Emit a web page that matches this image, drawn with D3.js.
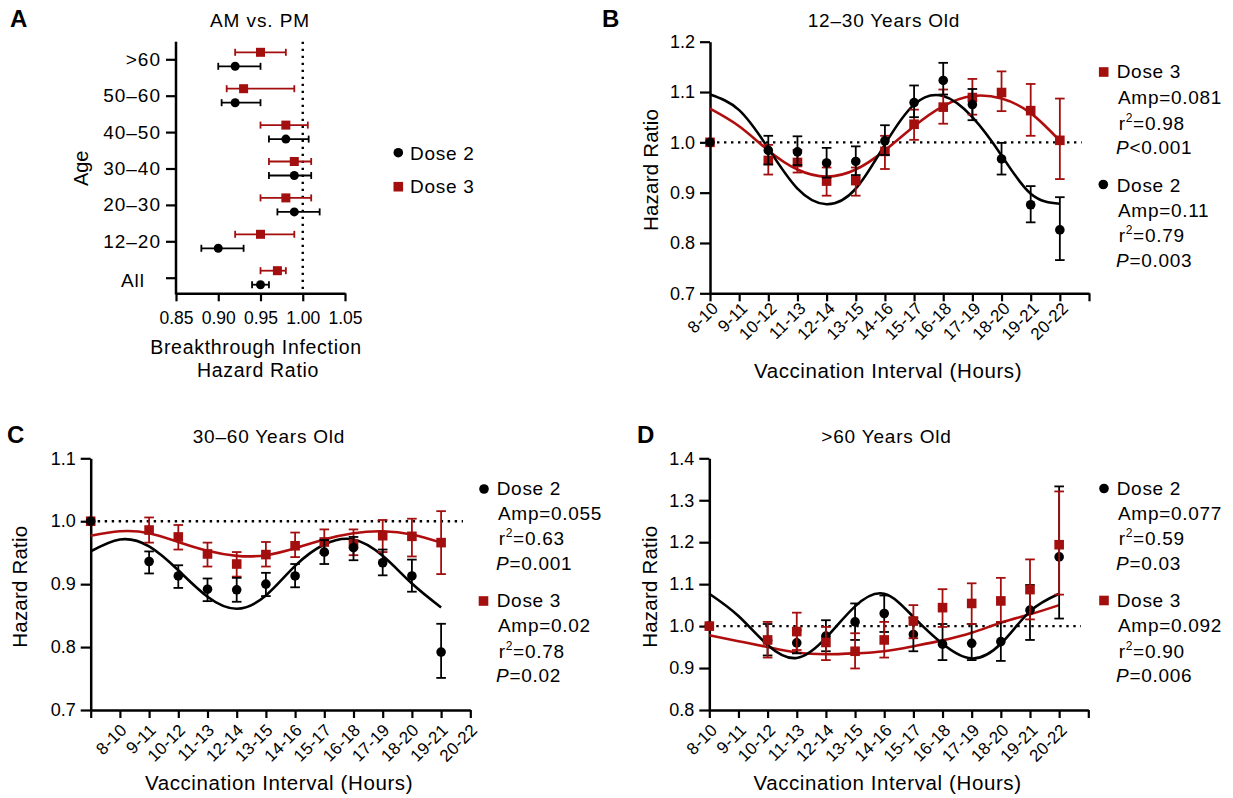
<!DOCTYPE html>
<html><head><meta charset="utf-8">
<script src="https://cdn.jsdelivr.net/npm/d3@7"></script>
<style>
body{margin:0;background:#fff;}
svg text{font-family:"Liberation Sans",Arial,Helvetica,sans-serif;fill:#000;}
</style></head><body>
<svg id="fig" width="1233" height="798" xmlns="http://www.w3.org/2000/svg"></svg>
<script>
// ---------- Panel A data ----------
const ageGroups = [">60", "50–60", "40–50", "30–40", "20–30", "12–20", "All"];
const aDose2HR = [0.92, 0.92, 0.98, 0.99, 0.99, 0.90, 0.95];
const aDose2Lo = [0.90, 0.904, 0.96, 0.96, 0.97, 0.88, 0.94];
const aDose2Hi = [0.95, 0.95, 1.007, 1.01, 1.02, 0.93, 0.96];
const aDose3HR = [0.95, 0.93, 0.98, 0.99, 0.98, 0.95, 0.97];
const aDose3Lo = [0.92, 0.91, 0.95, 0.96, 0.95, 0.92, 0.95];
const aDose3Hi = [0.98, 0.99, 1.006, 1.01, 1.01, 0.99, 0.98];
const aTicks = [0.85, 0.90, 0.95, 1.00, 1.05];

// ---------- Shared interval categories ----------
const intervals = ["8-10","9-11","10-12","11-13","12-14","13-15","14-16","15-17","16-18","17-19","18-20","19-21","20-22"];
const pointIdx = [0, 2, 3, 4, 5, 6, 7, 8, 9, 10, 11, 12];
const fitIdx = [0, 1, 2, 3, 4, 5, 6, 7, 8, 9, 10, 11, 12];

// ---------- Panel B (12–30) ----------
const bDose2HR = [1.0, 0.984, 0.981, 0.959, 0.962, 1.003, 1.079, 1.123, 1.075, 0.967, 0.876, 0.826];
const bDose2Lo = [null, 0.956, 0.955, 0.930, 0.935, 0.975, 1.050, 1.095, 1.044, 0.936, 0.841, 0.766];
const bDose2Hi = [null, 1.013, 1.012, 0.989, 0.992, 1.034, 1.113, 1.158, 1.106, 0.999, 0.913, 0.891];
const bDose3HR = [1.0, 0.964, 0.960, 0.923, 0.924, 0.982, 1.036, 1.070, 1.089, 1.099, 1.063, 1.004];
const bDose3Lo = [null, 0.936, 0.940, 0.894, 0.894, 0.947, 1.005, 1.037, 1.055, 1.062, 1.013, 0.927];
const bDose3Hi = [null, 0.995, 0.985, 0.950, 0.950, 1.013, 1.065, 1.105, 1.126, 1.141, 1.116, 1.087];
const bDose2Fit = [1.095, 1.064, 0.988, 0.908, 0.877, 0.908, 0.996, 1.075, 1.092, 1.050, 0.974, 0.898, 0.878];
const bDose3Fit = [1.067, 1.032, 0.984, 0.946, 0.932, 0.946, 0.984, 1.032, 1.072, 1.092, 1.087, 1.058, 1.003];
const bTicks = [0.7, 0.8, 0.9, 1.0, 1.1, 1.2];

// ---------- Panel C (30–60) ----------
const cDose2HR = [1.0, 0.936, 0.913, 0.892, 0.891, 0.900, 0.913, 0.951, 0.958, 0.934, 0.913, 0.792];
const cDose2Lo = [null, 0.917, 0.894, 0.873, 0.872, 0.881, 0.895, 0.932, 0.938, 0.914, 0.888, 0.751];
const cDose2Hi = [null, 0.952, 0.930, 0.909, 0.910, 0.918, 0.932, 0.970, 0.975, 0.955, 0.939, 0.837];
const cDose3HR = [1.0, 0.986, 0.975, 0.948, 0.932, 0.947, 0.961, 0.967, 0.964, 0.977, 0.976, 0.966];
const cDose3Lo = [null, 0.966, 0.955, 0.928, 0.912, 0.928, 0.943, 0.949, 0.946, 0.951, 0.944, 0.916];
const cDose3Hi = [null, 1.006, 0.994, 0.966, 0.951, 0.967, 0.982, 0.987, 0.987, 1.002, 1.004, 1.016];
const cDose2Fit = [0.952, 0.971, 0.960, 0.922, 0.880, 0.861, 0.882, 0.929, 0.963, 0.971, 0.945, 0.901, 0.863];
const cDose3Fit = [0.977, 0.984, 0.981, 0.967, 0.953, 0.945, 0.946, 0.957, 0.971, 0.981, 0.984, 0.979, 0.966];
const cTicks = [0.7, 0.8, 0.9, 1.0, 1.1];

// ---------- Panel D (>60) ----------
const dDose2HR = [1.0, 0.966, 0.960, 0.976, 1.010, 1.030, 0.980, 0.957, 0.959, 0.963, 1.038, 1.165];
const dDose2Lo = [null, 0.930, 0.935, 0.940, 0.967, 0.986, 0.940, 0.919, 0.919, 0.917, 0.967, 1.018];
const dDose2Hi = [null, 1.005, 0.990, 1.014, 1.054, 1.073, 1.020, 1.005, 1.005, 1.010, 1.098, 1.333];
const dDose3HR = [1.0, 0.967, 0.987, 0.961, 0.940, 0.967, 1.012, 1.044, 1.054, 1.060, 1.087, 1.194];
const dDose3Lo = [null, 0.925, 0.943, 0.919, 0.899, 0.925, 0.971, 0.998, 1.005, 1.010, 1.016, 1.075];
const dDose3Hi = [null, 1.010, 1.032, 0.998, 0.983, 1.010, 1.050, 1.088, 1.102, 1.115, 1.159, 1.321];
const dDose2Fit = [1.077, 1.024, 0.955, 0.924, 0.972, 1.047, 1.077, 1.022, 0.958, 0.923, 0.958, 1.035, 1.077];
const dDose3Fit = [0.978, 0.964, 0.950, 0.937, 0.933, 0.935, 0.940, 0.952, 0.966, 0.984, 1.008, 1.028, 1.050];
const dTicks = [0.8, 0.9, 1.0, 1.1, 1.2, 1.3, 1.4];

// ---------- Styling ----------
const RED = "#a30e0e", RED_LINE = "#b00e0e", RED_TEXT = "#9a1010", BLACK = "#000";
const svg = d3.select("#fig");

function styleAxis(g, fs, ls) {
  g.selectAll(".domain").attr("stroke", "#000").attr("stroke-width", 2.5);
  g.selectAll(".tick line").attr("stroke", "#000").attr("stroke-width", 2.2);
  const t = g.selectAll(".tick text").attr("fill", "#000").style("font-size", (fs || 17.5) + "px")
    .style("font-family", '"Liberation Sans", Arial, sans-serif');
  if (ls) t.style("letter-spacing", ls + "px");
}

function label(g, x, y, s, size, opts = {}) {
  const t = g.append("text").attr("x", x).attr("y", y).text(s)
    .style("font-size", size + "px")
    .attr("text-anchor", opts.anchor || "start")
    .attr("fill", opts.fill || "#000");
  if (opts.ls) t.style("letter-spacing", opts.ls + "px");
  if (opts.weight) t.style("font-weight", opts.weight);
  if (opts.rotate) t.attr("transform", `rotate(${opts.rotate},${x},${y})`);
  return t;
}

function legendBlock(g, mx, my, marker, color, tx, baselines, lines) {
  if (marker === "circle") {
    g.append("circle").attr("cx", mx).attr("cy", my).attr("r", 4.8).attr("fill", color);
  } else {
    g.append("rect").attr("x", mx - 4.8).attr("y", my - 4.8).attr("width", 9.6).attr("height", 9.6).attr("fill", color);
  }
  const fs = 19, ls = 0.7;
  label(g, tx, baselines[0], lines[0], fs, {fill: color, ls});
  label(g, tx + 1.3, baselines[1], "Amp=" + lines[1], fs, {fill: color, ls});
  const r = g.append("text").attr("x", tx + 2).attr("y", baselines[2]).attr("fill", color)
    .style("font-size", fs + "px").style("letter-spacing", ls + "px");
  r.append("tspan").text("r");
  r.append("tspan").attr("dy", -8).style("font-size", "12px").text("2");
  r.append("tspan").attr("dy", 8).text("=" + lines[2]);
  const p = g.append("text").attr("x", tx - 0.7).attr("y", baselines[3]).attr("fill", color)
    .style("font-size", fs + "px").style("letter-spacing", ls + "px");
  p.append("tspan").style("font-style", "italic").text("P");
  p.append("tspan").text(lines[3]);
}

// ================= Panel A =================
(function () {
  const g = svg.append("g");
  const x = d3.scaleLinear().domain([0.85, 1.05]).range([176, 345]);
  const yTop = 41.7, yBot = 293.3;
  const y = d3.scalePoint().domain(ageGroups).range([59.3, 277.7]);
  const off = 7;

  g.append("line").attr("x1", x(1)).attr("x2", x(1)).attr("y1", yTop).attr("y2", yBot)
    .attr("stroke", "#000").attr("stroke-width", 2.4).attr("stroke-dasharray", "2.4 4.6");

  const xa = g.append("g").attr("transform", `translate(0,${yBot})`)
    .call(d3.axisBottom(x).tickValues(aTicks).tickFormat(d3.format(".2f")).tickSize(8).tickSizeOuter(0).tickPadding(10));
  styleAxis(xa, 17.5);

  const ya = g.append("g").attr("transform", `translate(${x.range()[0]},0)`)
    .call(d3.axisLeft(y).tickSize(10).tickPadding(5));
  ya.select(".domain").remove();
  styleAxis(ya, 19, 1.0);
  ya.selectAll(".tick text").filter(d => d === "All").attr("dx", -16).attr("dy", "0.45em");
  g.append("line").attr("x1", x.range()[0]).attr("x2", x.range()[0]).attr("y1", yTop).attr("y2", yBot + 1.2)
    .attr("stroke", "#000").attr("stroke-width", 2.5);

  function series(hr, lo, hi, dy, color, shape) {
    const s = g.append("g");
    ageGroups.forEach((a, i) => {
      const cy = y(a) + dy;
      s.append("line").attr("x1", x(lo[i])).attr("x2", x(hi[i])).attr("y1", cy).attr("y2", cy)
        .attr("stroke", color).attr("stroke-width", 1.8);
      [lo[i], hi[i]].forEach(v => s.append("line").attr("x1", x(v)).attr("x2", x(v))
        .attr("y1", cy - 3.5).attr("y2", cy + 3.5).attr("stroke", color).attr("stroke-width", 1.8));
      if (shape === "circle") s.append("circle").attr("cx", x(hr[i])).attr("cy", cy).attr("r", 4.5).attr("fill", color);
      else s.append("rect").attr("x", x(hr[i]) - 4.5).attr("y", cy - 4.5).attr("width", 9).attr("height", 9).attr("fill", color);
    });
  }
  series(aDose3HR, aDose3Lo, aDose3Hi, -off, RED, "square");
  series(aDose2HR, aDose2Lo, aDose2Hi, off, BLACK, "circle");

  label(g, 10, 27, "A", 24, {weight: "bold"});
  label(g, 260, 26.5, "AM vs. PM", 19, {anchor: "middle", ls: 0.9});
  label(g, 256, 354, "Breakthrough Infection", 19.5, {anchor: "middle", ls: 0.7});
  label(g, 258, 376.7, "Hazard Ratio", 19.5, {anchor: "middle", ls: 0.7});
  label(g, 88.5, 168.3, "Age", 20, {anchor: "middle", rotate: -90});

  g.append("circle").attr("cx", 398.3).attr("cy", 152.7).attr("r", 4.8).attr("fill", BLACK);
  label(g, 410, 159.5, "Dose 2", 19, {ls: 0.7});
  g.append("rect").attr("x", 398.3 - 4.8).attr("y", 186.7 - 4.8).attr("width", 9.6).attr("height", 9.6).attr("fill", RED);
  label(g, 410, 193.3, "Dose 3", 19, {fill: RED_TEXT, ls: 0.7});
})();

// ================= Panels B, C, D =================
function intervalPanel(cfg) {
  const g = svg.append("g");
  const x = d3.scaleLinear().domain([0, intervals.length]).range(cfg.xRange);
  const y = d3.scaleLinear().domain(cfg.yDomain).range(cfg.yRange);
  const axisY = cfg.yRange[0];

  g.append("line").attr("x1", x(0)).attr("x2", x(12.75)).attr("y1", y(1)).attr("y2", y(1))
    .attr("stroke", "#000").attr("stroke-width", 2.4).attr("stroke-dasharray", "2.4 4.6");

  const ya = g.append("g").attr("transform", `translate(${cfg.xRange[0]},0)`)
    .call(d3.axisLeft(y).tickValues(cfg.yTicks).tickFormat(d3.format(".1f")).tickSize(10).tickPadding(5).tickSizeOuter(0));
  styleAxis(ya, 18);
  const xa = g.append("g").attr("transform", `translate(0,${axisY})`)
    .call(d3.axisBottom(x).tickValues(d3.range(0, intervals.length + 1)).tickFormat("").tickSize(8).tickSizeOuter(0));
  styleAxis(xa);

  intervals.forEach((lab, i) => {
    const px = x(i + cfg.labelShift) + cfg.lab[0], py = axisY + cfg.lab[1];
    g.append("text").attr("transform", `translate(${px},${py}) rotate(-45)`)
      .attr("text-anchor", "end").style("font-size", "17px").style("letter-spacing", "0.3px").text(lab);
  });

  const line = d3.line().x((v, i) => x(fitIdx[i])).y(v => y(v)).curve(d3.curveNatural);
  cfg.fits.forEach(f => g.append("path").attr("d", line(f.values)).attr("fill", "none")
    .attr("stroke", f.color).attr("stroke-width", 2.6));

  cfg.series.forEach(s => {
    const sg = g.append("g");
    pointIdx.forEach((idx, k) => {
      const cx = x(idx);
      if (s.lo[k] != null) {
        sg.append("line").attr("x1", cx).attr("x2", cx).attr("y1", y(s.lo[k])).attr("y2", y(s.hi[k]))
          .attr("stroke", s.color).attr("stroke-width", 1.8);
        [s.lo[k], s.hi[k]].forEach(v => sg.append("line").attr("x1", cx - 4.8).attr("x2", cx + 4.8)
          .attr("y1", y(v)).attr("y2", y(v)).attr("stroke", s.color).attr("stroke-width", 1.8));
      }
      if (s.shape === "circle") sg.append("circle").attr("cx", cx).attr("cy", y(s.hr[k])).attr("r", 4.8).attr("fill", s.color);
      else sg.append("rect").attr("x", cx - 4.8).attr("y", y(s.hr[k]) - 4.8).attr("width", 9.6).attr("height", 9.6).attr("fill", s.color);
    });
  });

  label(g, cfg.letter[0], cfg.letter[1], cfg.letterText, 24, {weight: "bold"});
  label(g, cfg.title[0], cfg.title[1], cfg.titleText, 19, {anchor: "middle", ls: 0.8});
  label(g, cfg.xTitle[0], cfg.xTitle[1], "Vaccination Interval (Hours)", 20.5, {anchor: "middle", ls: 0.6});
  label(g, cfg.yTitle[0], cfg.yTitle[1], "Hazard Ratio", 20.5, {anchor: "middle", rotate: -90, ls: 0.2});

  cfg.legends.forEach(L => legendBlock(g, L.m[0], L.m[1], L.shape, L.color, L.tx, L.base, L.lines));
}

intervalPanel({
  xRange: [710, 1089], yDomain: [0.7, 1.2], yRange: [293.3, 41.7], yTicks: bTicks,
  labelShift: 0, lab: [9.5, 16],
  fits: [{values: bDose3Fit, color: RED_LINE}, {values: bDose2Fit, color: BLACK}],
  series: [
    {hr: bDose3HR, lo: bDose3Lo, hi: bDose3Hi, color: RED, shape: "square"},
    {hr: bDose2HR, lo: bDose2Lo, hi: bDose2Hi, color: BLACK, shape: "circle"}
  ],
  letter: [602, 27], letterText: "B",
  title: [884, 26.5], titleText: "12–30 Years Old",
  xTitle: [888, 378], yTitle: [658, 170],
  legends: [
    {m: [1103.7, 72], shape: "square", color: RED, tx: 1116.7, base: [78.3, 104, 130, 154], lines: ["Dose 3", "0.081", "0.98", "<0.001"]},
    {m: [1103.3, 184.5], shape: "circle", color: BLACK, tx: 1116.7, base: [191.7, 216.7, 241.7, 266.7], lines: ["Dose 2", "0.11", "0.79", "=0.003"]}
  ]
});

intervalPanel({
  xRange: [90.7, 470.3], yDomain: [0.7, 1.1], yRange: [710, 458.3], yTicks: cTicks,
  labelShift: 1, lab: [8, 21],
  fits: [{values: cDose3Fit, color: RED_LINE}, {values: cDose2Fit, color: BLACK}],
  series: [
    {hr: cDose3HR, lo: cDose3Lo, hi: cDose3Hi, color: RED, shape: "square"},
    {hr: cDose2HR, lo: cDose2Lo, hi: cDose2Hi, color: BLACK, shape: "circle"}
  ],
  letter: [7, 443], letterText: "C",
  title: [269, 443.3], titleText: "30–60 Years Old",
  xTitle: [279, 790], yTitle: [27, 586.7],
  legends: [
    {m: [484, 489], shape: "circle", color: BLACK, tx: 496.7, base: [495, 520, 545, 570], lines: ["Dose 2", "0.055", "0.63", "=0.001"]},
    {m: [483.5, 601], shape: "square", color: RED, tx: 496.7, base: [606.7, 632, 657.7, 681.7], lines: ["Dose 3", "0.02", "0.78", "=0.02"]}
  ]
});

intervalPanel({
  xRange: [709.3, 1088.3], yDomain: [0.8, 1.4], yRange: [710, 458.3], yTicks: dTicks,
  labelShift: 0, lab: [9, 21],
  fits: [{values: dDose3Fit, color: RED_LINE}, {values: dDose2Fit, color: BLACK}],
  series: [
    {hr: dDose2HR, lo: dDose2Lo, hi: dDose2Hi, color: BLACK, shape: "circle"},
    {hr: dDose3HR, lo: dDose3Lo, hi: dDose3Hi, color: RED, shape: "square"}
  ],
  letter: [637, 443], letterText: "D",
  title: [886.5, 443.3], titleText: ">60 Years Old",
  xTitle: [887.5, 790], yTitle: [657, 586.7],
  legends: [
    {m: [1104, 488.5], shape: "circle", color: BLACK, tx: 1116.7, base: [495, 520, 545, 570], lines: ["Dose 2", "0.077", "0.59", "=0.03"]},
    {m: [1104, 600.5], shape: "square", color: RED, tx: 1116.7, base: [606.7, 632, 657.7, 681.7], lines: ["Dose 3", "0.092", "0.90", "=0.006"]}
  ]
});
</script>
</body></html>
